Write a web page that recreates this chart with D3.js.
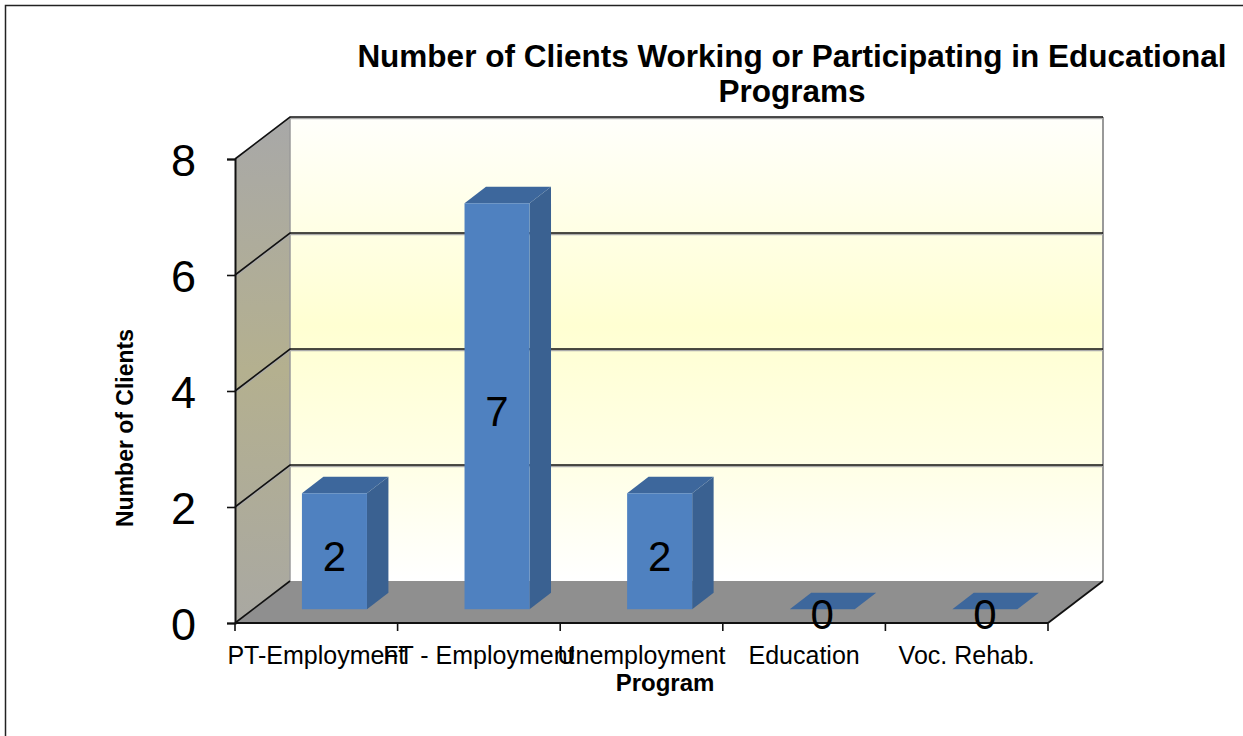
<!DOCTYPE html>
<html>
<head>
<meta charset="utf-8">
<script src="https://cdn.jsdelivr.net/npm/d3@7/dist/d3.min.js"></script>
<style>
  html, body { margin: 0; padding: 0; background: #fff; }
  svg { display: block; font-family: "Liberation Sans", Arial, sans-serif; }
</style>
</head>
<body>
<svg id="chart" width="1243" height="736"></svg>
<script>
// Chart data
const categories = ["PT-Employment", "FT - Employment", "Unemployment", "Education", "Voc. Rehab."];
const clients = [2, 7, 2, 0, 0];
const yTicks = [0, 2, 4, 6, 8];
const titleLines = ["Number of Clients Working or Participating in Educational", "Programs"];
const yTitle = "Number of Clients";
const xTitle = "Program";

const svg = d3.select("#chart");

// Front plane of the 3-D box and its depth offset
const front = { left: 235, right: 1048, top: 159, bottom: 623 };
const DX = 55, DY = 42;          // depth direction (right / up)
const f0 = 0.33, f1 = 0.72;      // bar front / back depth fractions

const x = d3.scaleBand().domain(categories).range([front.left, front.right]).padding(0);
const y = d3.scaleLinear().domain([0, 8]).range([front.bottom, front.top]);

const P = (px, py, f) => [px + f * DX, py - f * DY];
const poly = pts => "M" + pts.map(p => p.join(",")).join("L") + "Z";

// Gradients for walls
const defs = svg.append("defs");
const gBack = defs.append("linearGradient").attr("id", "backWall").attr("x1", 0).attr("y1", 0).attr("x2", 0).attr("y2", 1);
gBack.append("stop").attr("offset", "0").attr("stop-color", "#fffffb");
gBack.append("stop").attr("offset", "0.45").attr("stop-color", "#ffffd2");
gBack.append("stop").attr("offset", "0.75").attr("stop-color", "#ffffe6");
gBack.append("stop").attr("offset", "1").attr("stop-color", "#ffffff");
const gSide = defs.append("linearGradient").attr("id", "sideWall").attr("x1", 0).attr("y1", 0).attr("x2", 0).attr("y2", 1);
gSide.append("stop").attr("offset", "0").attr("stop-color", "#a8a8a8");
gSide.append("stop").attr("offset", "0.5").attr("stop-color", "#b4b08f");
gSide.append("stop").attr("offset", "1").attr("stop-color", "#a9a8a2");

// Outer frame
svg.append("rect").attr("x", 5.5).attr("y", 5.5).attr("width", 1400).attr("height", 900)
  .attr("fill", "none").attr("stroke", "#222").attr("stroke-width", 1.5);

// Back wall
svg.append("path")
  .attr("d", poly([P(front.left, y(8), 1), P(front.right, y(8), 1), P(front.right, y(0), 1), P(front.left, y(0), 1)]))
  .attr("fill", "url(#backWall)");
svg.append("line")
  .attr("x1", P(front.right, y(8), 1)[0]).attr("y1", P(front.right, y(8), 1)[1])
  .attr("x2", P(front.right, y(0), 1)[0]).attr("y2", P(front.right, y(0), 1)[1])
  .attr("stroke", "#999").attr("stroke-width", 2);

// Side wall
svg.append("path")
  .attr("d", poly([P(front.left, y(8), 0), P(front.left, y(8), 1), P(front.left, y(0), 1), P(front.left, y(0), 0)]))
  .attr("fill", "url(#sideWall)");
svg.append("line")
  .attr("x1", P(front.left, y(8), 1)[0]).attr("y1", P(front.left, y(8), 1)[1])
  .attr("x2", P(front.left, y(0), 1)[0]).attr("y2", P(front.left, y(0), 1)[1])
  .attr("stroke", "#9a9a9a").attr("stroke-width", 1.5);

// Gridlines: side wall diagonals and back wall horizontals
const grid = svg.append("g");
yTicks.filter(t => t > 0).forEach(t => {
  const a = P(front.left, y(t), 0), b = P(front.left, y(t), 1), c = P(front.right, y(t), 1);
  grid.append("path").attr("d", `M${a}L${b}L${c}`).attr("fill", "none")
    .attr("stroke", "#aaa").attr("stroke-width", 1.5).attr("transform", "translate(0,1.5)");
  grid.append("path").attr("d", `M${a}L${b}L${c}`).attr("fill", "none")
    .attr("stroke", "#111").attr("stroke-width", 1.6);
});

// Floor
svg.append("path")
  .attr("d", poly([P(front.left, y(0), 0), P(front.left, y(0), 1), P(front.right, y(0), 1), P(front.right, y(0), 0)]))
  .attr("fill", "#8f8f8f");
svg.append("path")
  .attr("d", `M${P(front.left, y(0), 0)}L${P(front.left, y(0), 1)}`)
  .attr("stroke", "#111").attr("stroke-width", 1.6);
svg.append("path")
  .attr("d", `M${P(front.right, y(0), 0)}L${P(front.right, y(0), 1)}`)
  .attr("stroke", "#111").attr("stroke-width", 1.8);

// Y axis (front plane)
const yAxis = svg.append("g").attr("transform", `translate(${front.left},0)`)
  .call(d3.axisLeft(y).tickValues(yTicks).tickSize(8).tickPadding(31).tickFormat(d3.format("d")));
yAxis.select(".domain").attr("stroke", "#111").attr("stroke-width", 2);
yAxis.selectAll(".tick line").attr("stroke", "#111").attr("stroke-width", 1.6);
yAxis.selectAll(".tick text").attr("font-size", 45).attr("fill", "#000")
  .attr("font-family", "Liberation Sans, Arial, sans-serif").attr("dy", "0.36em");

// X axis: baseline, boundary ticks, category labels
svg.append("line").attr("x1", front.left).attr("x2", front.right)
  .attr("y1", front.bottom).attr("y2", front.bottom).attr("stroke", "#111").attr("stroke-width", 2);
const boundaries = categories.map(c => x(c)).concat([front.right]);
svg.append("g").selectAll("line").data(boundaries).join("line")
  .attr("x1", d => d).attr("x2", d => d).attr("y1", front.bottom).attr("y2", front.bottom + 8)
  .attr("stroke", "#111").attr("stroke-width", 1.6);
const xAxis = svg.append("g").attr("transform", `translate(0,${front.bottom})`)
  .call(d3.axisBottom(x).tickSize(0).tickPadding(23));
xAxis.select(".domain").remove();
xAxis.selectAll(".tick text").attr("font-size", 25).attr("fill", "#000")
  .attr("font-family", "Liberation Sans, Arial, sans-serif");

// Bars
const bw = x.bandwidth() * 0.4;
const bars = svg.append("g");
categories.forEach((c, i) => {
  const v = clients[i];
  const cx = x(c) + x.bandwidth() / 2;
  const xl = cx - bw / 2, xr = cx + bw / 2;
  const yt = y(v), yb = y(0);
  const g = bars.append("g");
  if (v > 0) {
    g.append("path").attr("d", poly([P(xr, yt, f0), P(xr, yt, f1), P(xr, yb, f1), P(xr, yb, f0)]))
      .attr("fill", "#3a6191");
  }
  g.append("path").attr("d", poly([P(xl, yt, f0), P(xl, yt, f1), P(xr, yt, f1), P(xr, yt, f0)]))
    .attr("fill", "#3d679c");
  if (v > 0) {
    g.append("path").attr("d", poly([P(xl, yt, f0), P(xr, yt, f0), P(xr, yb, f0), P(xl, yb, f0)]))
      .attr("fill", "#4f81c0");
  }
  // value label on the front face
  const lp = P(cx, (yt + yb) / 2, f0);
  g.append("text").attr("x", lp[0]).attr("y", lp[1] + 5)
    .attr("text-anchor", "middle").attr("dy", "0.36em")
    .attr("font-size", 42).attr("fill", "#000").text(v);
});

// Titles
svg.append("g").selectAll("text").data(titleLines).join("text")
  .attr("x", 792).attr("y", (d, i) => 67 + i * 35)
  .attr("text-anchor", "middle").attr("font-weight", "bold").attr("font-size", 31.5)
  .attr("fill", "#000").text(d => d);

svg.append("text")
  .attr("transform", "translate(133,428) rotate(-90)")
  .attr("text-anchor", "middle").attr("font-weight", "bold").attr("font-size", 23)
  .attr("fill", "#000").text(yTitle);

svg.append("text").attr("x", 665).attr("y", 691)
  .attr("text-anchor", "middle").attr("font-weight", "bold").attr("font-size", 24)
  .attr("fill", "#000").text(xTitle);
</script>
</body>
</html>
